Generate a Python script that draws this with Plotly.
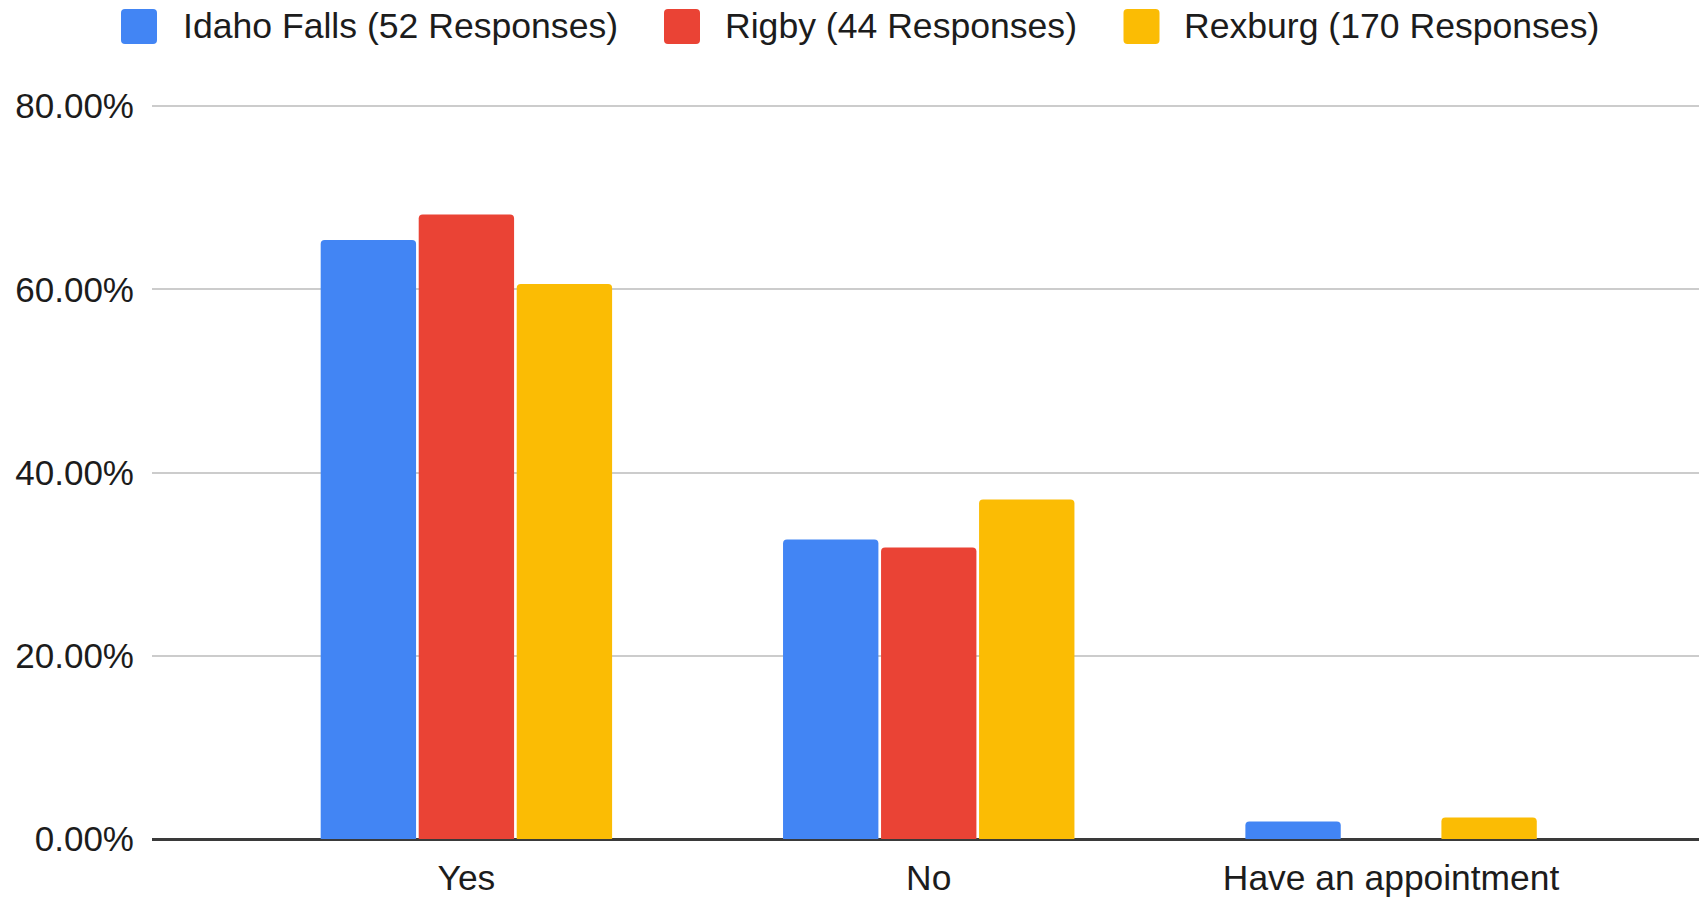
import plotly.graph_objects as go

# Survey answers and share of responses (percent) per clinic location
categories = ["Yes", "No", "Have an appointment"]
series_names = [
    "Idaho Falls (52 Responses)",
    "Rigby (44 Responses)",
    "Rexburg (170 Responses)",
]
idaho_falls = [65.38, 32.69, 1.92]
rigby = [68.18, 31.82, 0.0]
rexburg = [60.59, 37.06, 2.35]
series_colors = ["#4285F4", "#EA4335", "#FBBC04"]

y_ticks = [0, 20, 40, 60, 80]
y_tick_labels = ["0.00%", "20.00%", "40.00%", "60.00%", "80.00%"]
y_max = 80.12

W, H = 1699, 898
M_L, M_R, M_T, M_B = 152, 0, 105, 59
FONT = "Liberation Sans, Arial, sans-serif"
TEXT_COLOR = "#1c1c1c"

fig = go.Figure()
for name, vals, col in zip(series_names, [idaho_falls, rigby, rexburg], series_colors):
    fig.add_trace(go.Bar(
        x=categories, y=vals, name=name,
        marker=dict(color=col, line=dict(width=0)),
        showlegend=False,
    ))

# Custom legend row across the top: rounded swatches with labels
plot_w = W - M_L - M_R
plot_h = H - M_T - M_B
swatch_centers_px = [139, 682, 1141.5]
text_starts_px = [181, 723, 1182]
legend_y_px = 26.5


def px_to_paper_x(px):
    return (px - M_L) / plot_w


def px_to_paper_y(py):
    return (H - M_B - py) / plot_h


def rounded_rect(w, h, r):
    x0, x1, y0, y1 = -w / 2, w / 2, -h / 2, h / 2
    return (f"M{x0 + r},{y0} L{x1 - r},{y0} Q{x1},{y0} {x1},{y0 + r} "
            f"L{x1},{y1 - r} Q{x1},{y1} {x1 - r},{y1} L{x0 + r},{y1} "
            f"Q{x0},{y1} {x0},{y1 - r} L{x0},{y0 + r} Q{x0},{y0} {x0 + r},{y0} Z")


shapes = []
annotations = []
for name, col, sx, tx in zip(series_names, series_colors, swatch_centers_px, text_starts_px):
    shapes.append(dict(
        type="path", xref="paper", yref="paper",
        xsizemode="pixel", ysizemode="pixel",
        xanchor=px_to_paper_x(sx), yanchor=px_to_paper_y(legend_y_px),
        path=rounded_rect(36, 35, 4),
        fillcolor=col, line=dict(width=0), layer="above",
    ))
    annotations.append(dict(
        text=name, xref="paper", yref="paper",
        x=px_to_paper_x(tx), y=px_to_paper_y(legend_y_px),
        xanchor="left", yanchor="middle", showarrow=False,
        font=dict(family=FONT, size=35.6, color=TEXT_COLOR),
    ))

fig.update_layout(
    width=W, height=H,
    margin=dict(l=M_L, r=M_R, t=M_T, b=M_B, pad=0),
    paper_bgcolor="white", plot_bgcolor="white",
    barmode="group", bargap=0.364, bargroupgap=0.027,
    barcornerradius=4,
    font=dict(family=FONT, size=35, color=TEXT_COLOR),
    shapes=shapes, annotations=annotations,
    showlegend=False,
)
fig.update_xaxes(
    range=[-0.68, 2.666], showgrid=False, showline=False,
    ticks="", ticklabelstandoff=15,
    tickfont=dict(family=FONT, size=35.4, color=TEXT_COLOR),
)
fig.update_yaxes(
    range=[0, y_max], tickvals=y_ticks, ticktext=y_tick_labels,
    showgrid=True, gridcolor="#CCCCCC", gridwidth=2,
    zeroline=True, zerolinecolor="#3A3A3A", zerolinewidth=3,
    showline=False, ticks="", ticklabelstandoff=17,
    tickfont=dict(family=FONT, size=35, color=TEXT_COLOR),
)

fig.write_html("out.html")
